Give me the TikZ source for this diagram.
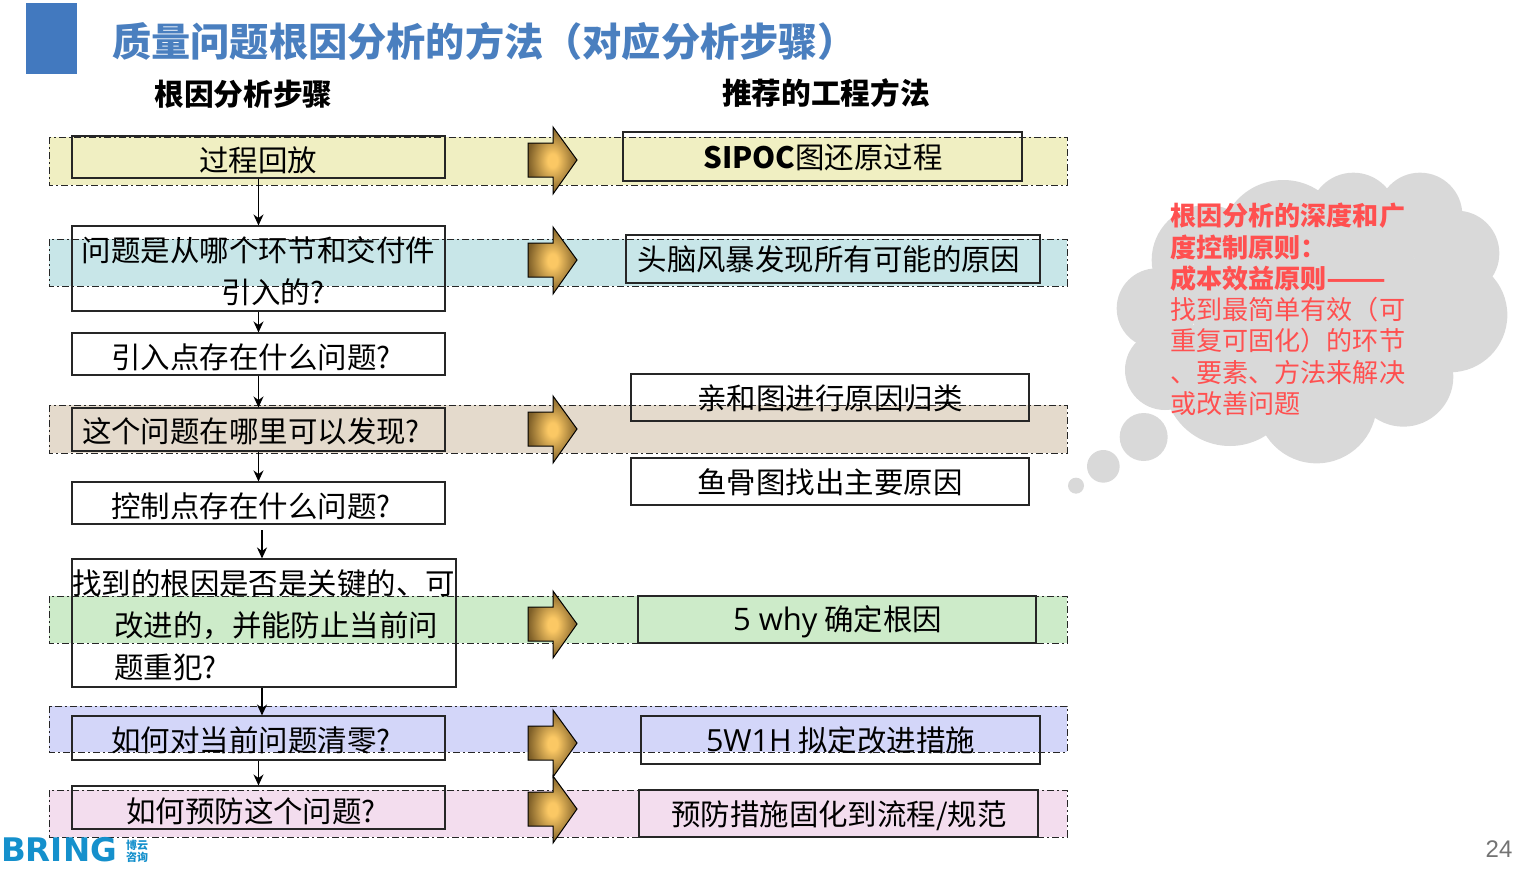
\documentclass[tikz,border=0pt]{standalone}
\usepackage{fontspec}
\usetikzlibrary{arrows.meta}
\setmainfont{Noto Sans CJK SC}
\newfontfamily\logofont{Liberation Sans}
\newfontfamily\brandfont{DejaVu Sans}
\newfontfamily\latinfont{Open Sans}
\definecolor{titleblue}{HTML}{4A7FBF}
\definecolor{barblue}{HTML}{4279BF}
\definecolor{cloudgrey}{HTML}{D9D9D9}
\definecolor{cloudred}{HTML}{FF5050}
\definecolor{logoblue}{HTML}{1590CC}
\definecolor{bandyellow}{HTML}{F0EFC2}
\definecolor{bandblue}{HTML}{C8E6E8}
\definecolor{bandtan}{HTML}{E4DACC}
\definecolor{bandgreen}{HTML}{CDEBC9}
\definecolor{bandviolet}{HTML}{D3D6F9}
\definecolor{bandpink}{HTML}{F3DDEE}
\definecolor{arrowgold}{HTML}{FBC864}
\definecolor{arrowdark}{HTML}{7E5F28}
\pgfdeclareradialshading{blockshade}{\pgfpointorigin}{color(0bp)=(arrowgold); color(5bp)=(arrowgold); color(25bp)=(arrowdark); color(50bp)=(arrowdark)}
\newcommand{\txt}{\fontsize{29.45}{42}\selectfont}
\tikzset{
  band/.style={draw=black!85, line width=0.9pt, dash pattern=on 7pt off 3pt on 2pt off 3pt},
  stepbox/.style={draw=black!85, line width=1.1pt, inner sep=0pt},
  steptext/.style={inner sep=0pt, font=\txt},
  flow/.style={draw=black, line width=1.5pt, -{Stealth[length=11pt,width=10pt]}},
}
\begin{document}
\begin{tikzpicture}[x=1pt,y=-1pt]
  \useasboundingbox (0,0) rectangle (1522,868);
  % title
  \fill [barblue] (26,3) rectangle (77,74);
  \node [anchor=west, inner sep=0pt, text=titleblue, font=\fontsize{39.2}{44}\selectfont\bfseries] (title) at (112,41) {质量问题根因分析的方法（对应分析步骤）};
  \node [inner sep=0pt, font=\fontsize{29.7}{34}\selectfont\bfseries] (headl) at (243.5,94) {根因分析步骤};
  \node [inner sep=0pt, font=\fontsize{29.7}{34}\selectfont\bfseries] (headr) at (826,93) {推荐的工程方法};
  % bands
  \foreach \ya/\yb/\col in {137/185/bandyellow, 239/286/bandblue, 405/453/bandtan, 596/643/bandgreen, 706/752/bandviolet, 790/837/bandpink}
    \draw [band, fill=\col] (49,\ya) rectangle (1067,\yb);
  % block arrows
  \foreach \yc in {160,260,429,624,743,809}
    \shade [shading=blockshade, draw=black, line width=1pt]
      (528,\yc-17) -- (553,\yc-17) -- (553,\yc-33) -- (577,\yc) -- (553,\yc+34) -- (553,\yc+17) -- (528,\yc+17) -- cycle;
  % left boxes
  \node [stepbox, minimum width=373pt, minimum height=42pt] (ask1) at (258.5,157) {};
  \node [stepbox, minimum width=373pt, minimum height=85pt] (ask2) at (258.5,268.5) {};
  \node [stepbox, minimum width=373pt, minimum height=42pt] (ask3) at (258.5,354) {};
  \node [stepbox, minimum width=373pt, minimum height=43pt] (ask4) at (258.5,429.5) {};
  \node [stepbox, minimum width=373pt, minimum height=42pt] (ask5) at (258.5,503) {};
  \node [stepbox, minimum width=384pt, minimum height=128pt] (ask6) at (264,623) {};
  \node [stepbox, minimum width=373pt, minimum height=44pt] (ask7) at (258.5,738) {};
  \node [stepbox, minimum width=373pt, minimum height=43pt] (ask8) at (258.5,807.5) {};
  \coordinate (gap5) at (262,530);
  \draw [flow] (ask1) -- (ask2);
  \draw [flow] (ask2) -- (ask3);
  \draw [flow] (ask3) -- (ask4);
  \draw [flow] (ask4) -- (ask5);
  \draw [flow] (gap5) -- (gap5 |- ask6.north);
  \draw [flow] ([xshift=-2pt]ask6.south) -- ([xshift=3.5pt]ask7.north);
  \draw [flow] (ask7) -- (ask8);
  \node [steptext] (a1) at (258,160) {过程回放};
  \node [steptext] (a2a) at (258.5,250) {问题是从哪个环节和交付件};
  \node [steptext] (a2b) at (273,292) {引入的?};
  \node [steptext] (a3) at (251,357) {引入点存在什么问题?};
  \node [steptext] (a4) at (251,431) {这个问题在哪里可以发现?};
  \node [steptext] (a5) at (251,506) {控制点存在什么问题?};
  \node [steptext, anchor=west] (a6a) at (72,583) {找到的根因是否是关键的、可};
  \node [steptext, anchor=west] (a6b) at (114,625.5) {改进的，并能防止当前问};
  \node [steptext, anchor=west] (a6c) at (114,667) {题重犯?};
  \node [steptext] (a7) at (251,740) {如何对当前问题清零?};
  \node [steptext] (a8) at (251,811) {如何预防这个问题?};
  % right boxes
  \node [stepbox, minimum width=399pt, minimum height=49pt] (way1) at (822.5,156.5) {};
  \node [stepbox, minimum width=414pt, minimum height=48pt] (way2) at (833,259) {};
  \node [stepbox, minimum width=398pt, minimum height=47pt] (way3) at (830,397.5) {};
  \node [stepbox, minimum width=398pt, minimum height=47pt] (way4) at (830,481.5) {};
  \node [stepbox, minimum width=398pt, minimum height=47pt] (way5) at (837,619.5) {};
  \node [stepbox, minimum width=399pt, minimum height=48pt] (way6) at (840.5,740) {};
  \node [stepbox, minimum width=399pt, minimum height=47pt] (way7) at (838.5,813.5) {};
  \node [steptext] (w1) at (823,157) {\textbf{SIPOC}图还原过程};
  \node [steptext] (w2) at (829,259) {头脑风暴发现所有可能的原因};
  \node [steptext] (w3) at (830,398) {亲和图进行原因归类};
  \node [steptext] (w4) at (830,482) {鱼骨图找出主要原因};
  \node [steptext] (w5) at (837.5,621.5) {{\latinfont\fontsize{31}{42}\selectfont 5 why} 确定根因};
  \node [steptext] (w6) at (840.5,740) {{\latinfont\fontsize{30.5}{42}\selectfont 5W1H} 拟定改进措施};
  \node [steptext] (w7) at (839,815.5) {预防措施固化到流程/规范};
  % cloud
  \begin{scope}[shift={(1060,160)},scale=1/3]
    \fill [cloudgrey] (750,450) circle[radius=350];
    \foreach \cx/\cy/\r in {670/250/190, 440/300/165, 880/170/132, 1080/165/127, 1190/280/128, 1170/465/172, 1030/650/150, 770/730/180, 510/660/198, 315/630/120, 290/445/120, 251/831/72, 130/919/49, 48/977/24}
      \fill [cloudgrey] (\cx,\cy) circle[radius=\r];
  \end{scope}
  \node [anchor=north west, inner sep=0pt, align=left, text=cloudred, font=\fontsize{26.1}{31.3}\selectfont] (note) at (1170,203) {\textbf{根因分析的深度和广}\\\textbf{度控制原则：}\\\textbf{成本效益原则\scalebox{1.34}[1]{——}}\\找到最简单有效（可\\重复可固化）的环节\\、要素、方法来解决\\或改善问题};
  % logo and page number
  \node [anchor=west, inner sep=0pt, text=logoblue, font=\brandfont\bfseries\fontsize{32.5}{36}\selectfont] (logo) at (1,850) {BRING};
  \node [anchor=center, inner sep=0pt, text=logoblue, font=\fontsize{11}{11}\selectfont\bfseries] (logocna) at (137,845) {博云};
  \node [anchor=center, inner sep=0pt, text=logoblue, font=\fontsize{11}{11}\selectfont\bfseries] (logocnb) at (137,857.5) {咨询};
  \node [inner sep=0pt, text=black!55, font=\logofont\fontsize{24}{26}\selectfont] (page) at (1499,849) {24};
\end{tikzpicture}
\end{document}
